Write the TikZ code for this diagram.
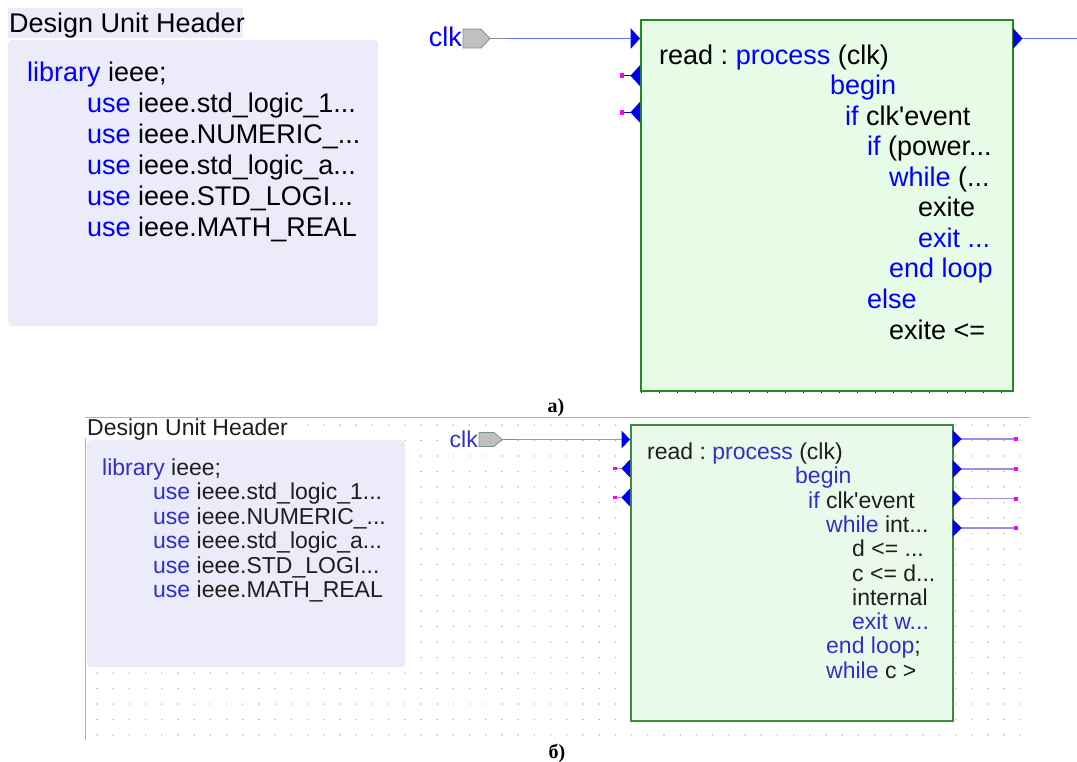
\documentclass[tikz,border=0pt]{standalone}
\usepackage{fontspec}
\newfontfamily\arial{Liberation Sans}
\newfontfamily\timesb{Liberation Serif}
\definecolor{lavA}{HTML}{ECEBFA}
\definecolor{lavB}{HTML}{EBEBFA}
\definecolor{gfillA}{HTML}{E6FCE6}
\definecolor{gfillB}{HTML}{EAFAEA}
\definecolor{gdrawA}{HTML}{1E8C1E}
\definecolor{gdrawB}{HTML}{3D8B3D}
\definecolor{kwA}{HTML}{0000FF}
\definecolor{kwB}{HTML}{3030C8}
\definecolor{txA}{HTML}{000000}
\definecolor{txB}{HTML}{1E1E1E}
\definecolor{lineA}{HTML}{6B6BFF}
\definecolor{lineB}{HTML}{9090E6}
\definecolor{portblue}{HTML}{0000F0}
\definecolor{mag}{HTML}{FF00FF}
\definecolor{pgray}{HTML}{C0C0C0}
\definecolor{pedge}{HTML}{7F8F8F}
\definecolor{griddot}{HTML}{B4B4C8}
\definecolor{frame}{HTML}{B0B0B0}
\newcommand\kwa[1]{\textcolor{kwA}{#1}}
\newcommand\kwb[1]{\textcolor{kwB}{#1}}
\begin{document}
\begin{tikzpicture}[x=1pt,y=-1pt,
  tA/.style={anchor=base west,inner sep=0pt,text=txA,font=\arial\fontsize{27}{30}\selectfont},
  tB/.style={anchor=base west,inner sep=0pt,text=txB,font=\arial\fontsize{23}{26}\selectfont},
  lavbox/.style={anchor=north west,inner sep=0pt,rounded corners=4pt},
  gbox/.style={anchor=north west,inner sep=0pt},
  caption/.style={anchor=base,inner sep=0pt,font=\timesb\bfseries\fontsize{20}{22}\selectfont},
  wireA/.style={draw=lineA,line width=1.4pt},
  wireB/.style={draw=lineB,line width=1.5pt},
  stub/.style={draw=pedge,line width=1.3pt}]
\useasboundingbox (0,0) rectangle (1077,762);

% ================= part a =================
\fill[lavA] (8,8) rectangle (243,38);
\node[tA] (hdrA) at (9,33) {Design Unit Header};
\node[lavbox,fill=lavA,minimum width=370pt,minimum height=286pt] (libA) at (8,40) {};
\node[tA] (la1) at (27,82) {\kwa{library} ieee;};
\node[tA] (la2) at (87,113) {\kwa{use} ieee.std\_logic\_1...};
\node[tA] (la3) at (87,144) {\kwa{use} ieee.NUMERIC\_...};
\node[tA] (la4) at (87,175) {\kwa{use} ieee.std\_logic\_a...};
\node[tA] (la5) at (87,206) {\kwa{use} ieee.STD\_LOGI...};
\node[tA] (la6) at (87,237) {\kwa{use} ieee.MATH\_REAL};

\node[gbox,fill=gfillA,draw=gdrawA,line width=2.4pt,minimum width=372pt,minimum height=371pt] (procA) at (640,19) {};
\draw[kwA,line width=0.6pt,dash pattern=on 1pt off 17pt] (641,392.5) -- (1012,392.5);
\node[tA] (pa1) at (659,64.5) {read :\ \kwa{process} (clk)};
\node[tA] (pa2) at (830,95) {\kwa{begin}};
\node[tA] (pa3) at (845,125.5) {\kwa{if} clk{\char"27}event};
\node[tA] (pa4) at (867,156) {\kwa{if} (power...};
\node[tA] (pa5) at (889,186.5) {\kwa{while} (...};
\node[tA] (pa6) at (918,217) {exite};
\node[tA] (pa7) at (918,247.5) {\kwa{exit ...}};
\node[tA] (pa8) at (889,278) {\kwa{end loop}};
\node[tA] (pa9) at (867,308.5) {\kwa{else}};
\node[tA] (pa10) at (889,339) {exite <=};

% clk port
\filldraw[fill=pgray,draw=pedge,line width=0.8pt] (463,29) -- (481,29) -- (490,38.5) -- (481,48) -- (463,48) -- cycle;
\coordinate (clkA) at (490,38.5);
\coordinate (clkAm) at (508,38.5);
\node[tA,anchor=base east] (clkAl) at (462,47) {\kwa{clk}};
\coordinate (inA) at (631,38.5);
\draw[stub] (clkA) -- (clkAm);
\draw[wireA] (clkAm) -- (inA);
\fill[portblue] (630.5,28) -- (640,38.5) -- (630.5,49) -- cycle;
% inputs
\foreach \yy/\nm in {75.7/ia1,112.3/ia2}{
  \coordinate (\nm s) at (624,\yy);
  \coordinate (\nm t) at (631,\yy);
  \draw[portblue,line width=1pt] (\nm s) -- (\nm t);
  \fill[mag] (619.5,\yy-2.3) rectangle (624.2,\yy+2.3);
  \fill[portblue] (640,\yy-10.5) -- (630.5,\yy) -- (640,\yy+10.5) -- cycle;
}
% output
\coordinate (oA) at (1022,38.5);
\coordinate (oAe) at (1077,38.5);
\fill[portblue] (1013,28) -- (1022.5,38.5) -- (1013,49) -- cycle;
\draw[wireA] (oA) -- (oAe);

\node[caption] (capA) at (556,412) {а)};

% ================= part b =================
\foreach \gx in {0,...,57}{
  \foreach \gy in {0,...,20}{
    \fill[griddot] (97+\gx*16.2,425+\gy*15.5) circle (0.8pt);
  }
}
\draw[frame,line width=0.8pt] (85,740) -- (85,417) -- (1030,417);
\fill[white] (85,418) rectangle (292,438);
\node[tB] (hdrB) at (87,435) {Design Unit Header};
\node[lavbox,fill=lavB,minimum width=318pt,minimum height=227pt] (libB) at (87,440) {};
\node[tB] (lb1) at (102,475) {\kwb{library} ieee;};
\node[tB] (lb2) at (153,499.5) {\kwb{use} ieee.std\_logic\_1...};
\node[tB] (lb3) at (153,524) {\kwb{use} ieee.NUMERIC\_...};
\node[tB] (lb4) at (153,548.5) {\kwb{use} ieee.std\_logic\_a...};
\node[tB] (lb5) at (153,573) {\kwb{use} ieee.STD\_LOGI...};
\node[tB] (lb6) at (153,597.5) {\kwb{use} ieee.MATH\_REAL};

\node[gbox,fill=gfillB,draw=gdrawB,line width=1.8pt,minimum width=322pt,minimum height=296pt] (procB) at (630,424) {};
\node[tB] (pb1) at (647,459.5) {read :\ \kwb{process} (clk)};
\node[tB] (pb2) at (795,483.8) {\kwb{begin}};
\node[tB] (pb3) at (808,508.1) {\kwb{if} clk{\char"27}event};
\node[tB] (pb4) at (826,532.4) {\kwb{while} int...};
\node[tB] (pb5) at (852,556.7) {d <= ...};
\node[tB] (pb6) at (852,581) {c <= d...};
\node[tB] (pb7) at (852,605.3) {internal};
\node[tB] (pb8) at (852,629.6) {\kwb{exit w...}};
\node[tB] (pb9) at (826,653.9) {\kwb{end loop};};
\node[tB] (pb10) at (826,678.2) {\kwb{while} c >};

% clk port
\filldraw[fill=pgray,draw=pedge,line width=0.8pt] (479,432.5) -- (494,432.5) -- (502,439.5) -- (494,446.5) -- (479,446.5) -- cycle;
\coordinate (clkB) at (502,439.5);
\coordinate (clkBm) at (517,439.5);
\node[tB,anchor=base east] (clkBl) at (478,447.5) {\kwb{clk}};
\coordinate (inB) at (622,439.5);
\draw[stub,line width=1pt] (clkB) -- (clkBm);
\draw[wireB] (clkBm) -- (inB);
\fill[portblue] (621.5,430.5) -- (630,439.5) -- (621.5,448.5) -- cycle;
\foreach \yy/\nm in {468.5/ib1,497.5/ib2}{
  \coordinate (\nm s) at (616,\yy);
  \coordinate (\nm t) at (622,\yy);
  \draw[lineB,line width=1pt] (\nm s) -- (\nm t);
  \fill[mag] (612.5,\yy-1.8) rectangle (616.5,\yy+1.8);
  \fill[portblue] (630,\yy-9) -- (621.5,\yy) -- (630,\yy+9) -- cycle;
}
% outputs
\foreach \yy/\nm in {439/ob1,469/ob2,498.5/ob3,528/ob4}{
  \coordinate (\nm s) at (961,\yy);
  \coordinate (\nm t) at (1015,\yy);
  \draw[wireB] (\nm s) -- (\nm t);
  \fill[portblue] (952.5,\yy-9) -- (961.5,\yy) -- (952.5,\yy+9) -- cycle;
  \fill[mag] (1013.5,\yy-2) rectangle (1017.5,\yy+2);
}
\node[caption] (capB) at (557,758) {б)};
\end{tikzpicture}
\end{document}
